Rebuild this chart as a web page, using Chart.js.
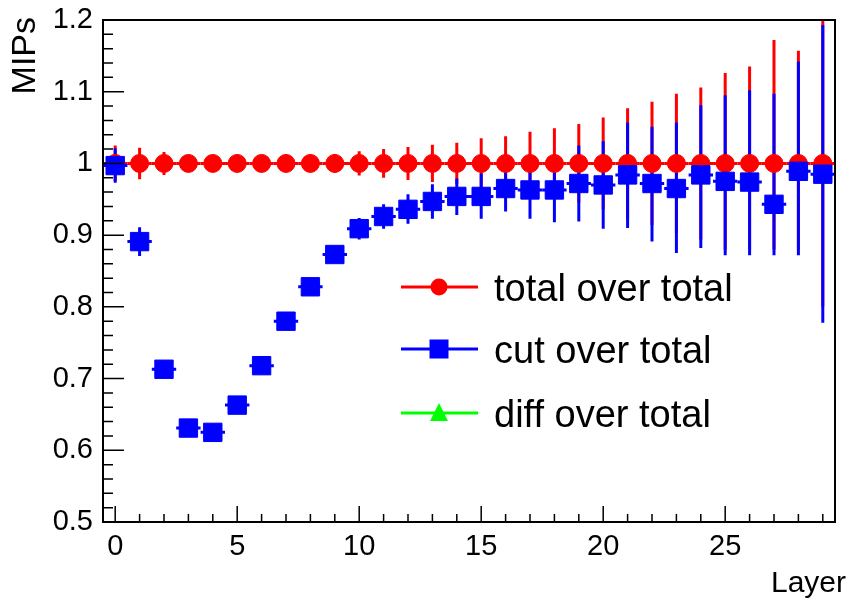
<!DOCTYPE html>
<html>
<head>
<meta charset="utf-8">
<script src="https://cdn.jsdelivr.net/npm/chart.js@4.4.0/dist/chart.umd.min.js"></script>
<style>
  body { margin: 0; background: #fff; }
</style>
</head>
<body>
<canvas id="chart" width="849" height="601"></canvas>
<script>
// data
const layers = [0,1,2,3,4,5,6,7,8,9,10,11,12,13,14,15,16,17,18,19,20,21,22,23,24,25,26,27,28,29];

const totalVals = [1,1,1,1,1,1,1,1,1,1,1,1,1,1,1,1,1,1,1,1,1,1,1,1,1,1,1,1,1,1];
const totalErrUp = [0.025,0.022,0.016,0.01,0.01,0.01,0.01,0.01,0.012,0.013,0.017,0.02,0.023,0.026,0.029,0.035,0.038,0.044,0.049,0.055,0.064,0.077,0.086,0.097,0.106,0.126,0.135,0.172,0.157,0.22];
const totalErrDown = [0.025,0.022,0.016,0.01,0.01,0.01,0.01,0.01,0.012,0.013,0.017,0.02,0.023,0.026,0.029,0.035,0.038,0.044,0.049,0.055,0.064,0.077,0.086,0.097,0.106,0.12,0.12,0.12,0.12,0.2];

const cutVals = [0.997,0.891,0.713,0.631,0.625,0.663,0.718,0.780,0.828,0.873,0.909,0.926,0.936,0.947,0.954,0.954,0.965,0.963,0.963,0.972,0.970,0.984,0.972,0.965,0.984,0.975,0.974,0.943,0.989,0.985];
const cutErrUp = [0.024,0.02,0.006,0.006,0.006,0.007,0.007,0.008,0.009,0.01,0.015,0.017,0.021,0.024,0.025,0.032,0.035,0.04,0.045,0.053,0.061,0.073,0.079,0.092,0.097,0.12,0.128,0.154,0.153,0.208];
const cutErrDown = [0.024,0.02,0.006,0.006,0.006,0.007,0.007,0.008,0.009,0.01,0.015,0.017,0.02,0.024,0.026,0.031,0.032,0.04,0.045,0.053,0.061,0.074,0.081,0.09,0.102,0.103,0.102,0.071,0.117,0.207];

const diffVals = []; // nothing of it shows inside the frame

const yTicks = [0.5,0.6,0.7,0.8,0.9,1.0,1.1,1.2];
const yTickLabels = ['0.5','0.6','0.7','0.8','0.9','1','1.1','1.2'];
const xTicks = [0,5,10,15,20,25];
const xTickLabels = ['0','5','10','15','20','25'];

const FONT = '"Liberation Sans", Arial, sans-serif';

function toPoints(vals) {
  return vals.map((v, i) => ({x: layers[i], y: v}));
}

function drawErrors(chart, vals, up, down, color) {
  const {ctx, chartArea: a, scales: {x, y}} = chart;
  ctx.save();
  ctx.beginPath();
  ctx.rect(a.left, a.top, a.right - a.left, a.bottom - a.top);
  ctx.clip();
  ctx.strokeStyle = color;
  ctx.lineWidth = 3;
  vals.forEach((v, i) => {
    const px = x.getPixelForValue(layers[i]);
    const py = y.getPixelForValue(v);
    ctx.beginPath();
    ctx.moveTo(px, y.getPixelForValue(v + up[i]));
    ctx.lineTo(px, y.getPixelForValue(v - down[i]));
    ctx.moveTo(x.getPixelForValue(layers[i] - 0.5), py);
    ctx.lineTo(x.getPixelForValue(layers[i] + 0.5), py);
    ctx.stroke();
  });
  ctx.restore();
}

const errorBars = {
  id: 'errorBars',
  beforeDatasetsDraw(chart) {
    drawErrors(chart, totalVals, totalErrUp, totalErrDown, '#ff0000');
    drawErrors(chart, cutVals, cutErrUp, cutErrDown, '#0000ff');
  }
};

// ROOT style frame: ticks point inward
const rootAxes = {
  id: 'rootAxes',
  afterDatasetsDraw(chart) {
    const {ctx, chartArea: a, scales: {x, y}} = chart;
    ctx.save();
    ctx.strokeStyle = '#000';
    ctx.lineWidth = 2;
    ctx.strokeRect(a.left, a.top, a.right - a.left, a.bottom - a.top);
    ctx.lineWidth = 1.5;
    ctx.beginPath();
    for (let k = 0; k <= 35; k++) {
      const py = y.getPixelForValue(0.5 + k * 0.02);
      ctx.moveTo(a.left, py);
      ctx.lineTo(a.left + (k % 5 === 0 ? 21 : 10), py);
    }
    for (let k = 0; k <= 29; k++) {
      const px = x.getPixelForValue(k);
      ctx.moveTo(px, a.bottom);
      ctx.lineTo(px, a.bottom - (k % 5 === 0 ? 16 : 8));
    }
    ctx.stroke();

    ctx.fillStyle = '#000';
    ctx.font = '30px ' + FONT;
    ctx.textAlign = 'right';
    ctx.textBaseline = 'alphabetic';
    ctx.fillText('Layer', 846, 592);
    ctx.font = '34px ' + FONT;
    ctx.translate(35, 17);
    ctx.rotate(-Math.PI / 2);
    ctx.fillText('MIPs', 0, 0);
    ctx.restore();
  }
};

const boxLegend = {
  id: 'boxLegend',
  afterDraw(chart) {
    const ctx = chart.ctx;
    const rows = [287, 349, 413];
    ctx.save();
    chart.data.datasets.forEach((ds, i) => {
      const yy = rows[i];
      ctx.strokeStyle = ds.borderColor;
      ctx.fillStyle = ds.backgroundColor;
      ctx.lineWidth = 3;
      ctx.beginPath();
      ctx.moveTo(401, yy);
      ctx.lineTo(478, yy);
      ctx.stroke();
      ctx.beginPath();
      if (ds.pointStyle === 'circle') {
        ctx.arc(439, yy, 8.5, 0, Math.PI * 2);
      } else if (ds.pointStyle === 'rect') {
        ctx.rect(439 - 9.5, yy - 9.5, 19, 19);
      } else {
        ctx.moveTo(439, yy - 10);
        ctx.lineTo(448, yy + 8);
        ctx.lineTo(430, yy + 8);
        ctx.closePath();
      }
      ctx.fill();
      ctx.fillStyle = '#000';
      ctx.font = '38px ' + FONT;
      ctx.textAlign = 'left';
      ctx.textBaseline = 'alphabetic';
      ctx.fillText(ds.label, 494, yy + 14);
    });
    ctx.restore();
  }
};

const ctx = document.getElementById('chart');
const chart = new Chart(ctx, {
  type: 'scatter',
  data: {
    datasets: [
      {
        label: 'total over total',
        data: toPoints(totalVals),
        pointStyle: 'circle',
        pointRadius: 9,
        pointBorderWidth: 1,
        borderColor: '#ff0000',
        backgroundColor: '#ff0000',
        order: 2
      },
      {
        label: 'cut over total',
        data: toPoints(cutVals),
        pointStyle: 'rect',
        pointRadius: 13,
        pointBorderWidth: 1,
        borderColor: '#0000ff',
        backgroundColor: '#0000ff',
        order: 1
      },
      {
        label: 'diff over total',
        data: toPoints(diffVals),
        pointStyle: 'triangle',
        pointRadius: 10,
        borderColor: '#00ff00',
        backgroundColor: '#00ff00',
        order: 0
      }
    ]
  },
  options: {
    responsive: false,
    devicePixelRatio: 1,
    animation: false,
    layout: { padding: { top: 20, right: 1, left: 0, bottom: 0 } },
    plugins: { legend: { display: false }, tooltip: { enabled: false } },
    scales: {
      x: {
        type: 'linear',
        min: -0.5,
        max: 29.5,
        grid: { display: false },
        border: { display: false },
        afterBuildTicks: (s) => { s.ticks = xTicks.map(v => ({value: v})); },
        afterFit: (s) => { s.height = 79; },
        ticks: {
          color: '#000',
          padding: 0,
          maxRotation: 0,
          autoSkip: false,
          font: { family: FONT, size: 29 },
          callback: (v) => xTickLabels[xTicks.indexOf(v)]
        }
      },
      y: {
        min: 0.5,
        max: 1.2,
        grid: { display: false },
        border: { display: false },
        afterBuildTicks: (s) => { s.ticks = yTicks.map(v => ({value: v})); },
        afterFit: (s) => { s.width = 103; },
        ticks: {
          color: '#000',
          padding: 2,
          autoSkip: false,
          font: { family: FONT, size: 29 },
          callback: (v) => yTickLabels[yTicks.indexOf(v)]
        }
      }
    }
  },
  plugins: [errorBars, rootAxes, boxLegend]
});
</script>
</body>
</html>
